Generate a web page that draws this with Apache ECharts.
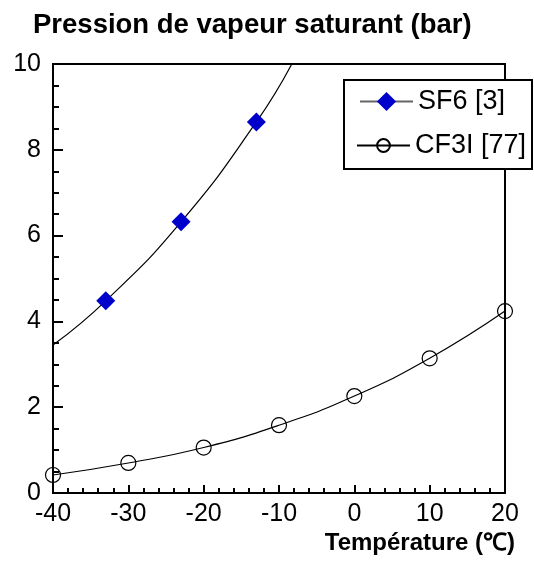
<!DOCTYPE html>
<html>
<head>
<meta charset="utf-8">
<script src="https://cdn.jsdelivr.net/npm/echarts@6/dist/echarts.min.js"></script>
<style>
html,body{margin:0;padding:0;background:#fff;}
#c{width:534px;height:561px;}
</style>
</head>
<body>
<div id="c"></div>
<script>
// ---- data ----
const xTicks = [-40, -30, -20, -10, 0, 10, 20];
const yTicks = [0, 2, 4, 6, 8, 10];

const sf6Name = 'SF6 [3]';
const sf6Temp = [-33, -23, -13];
const sf6Pressure = [4.48, 6.32, 8.65];
// fitted curve end points
const sf6CurveStart = [-40, 3.45];
const sf6CurveEnd = [-8.3, 10];

const cf3iName = 'CF3I [77]';
const cf3iTemp = [-40, -30, -20, -10, 0, 10, 20];
const cf3iPressure = [0.42, 0.70, 1.06, 1.58, 2.26, 3.14, 4.24];

const titleText = 'Pression de vapeur saturant (bar)';
const xNameText = 'Température (℃)';

// ---- build chart ----
const FONT = '"Liberation Sans", Arial, sans-serif';

const sf6Data = [{value: sf6CurveStart, symbol: 'none'}]
  .concat(sf6Temp.map((t, i) => [t, sf6Pressure[i]]))
  .concat([{value: sf6CurveEnd, symbol: 'none'}]);
const cf3iData = cf3iTemp.map((t, i) => [t, cf3iPressure[i]]);

const chart = echarts.init(document.getElementById('c'), null, {renderer: 'canvas'});
chart.setOption({
  animation: false,
  backgroundColor: '#fff',
  textStyle: {fontFamily: FONT},
  title: [
    {text: titleText, left: 33, top: 11, padding: 0,
     textStyle: {fontFamily: FONT, fontSize: 27.5, fontWeight: 'bold', color: '#000'}},
    {text: xNameText, right: 19, top: 531, padding: 0,
     textStyle: {fontFamily: FONT, fontSize: 24, fontWeight: 'bold', color: '#000'}}
  ],
  grid: {left: 53, right: 29, top: 64, bottom: 68, show: true,
         borderColor: '#000', borderWidth: 2, backgroundColor: 'transparent'},
  xAxis: {
    type: 'value', min: xTicks[0], max: xTicks[xTicks.length - 1], interval: 10,
    axisLine: {show: true, onZero: false, lineStyle: {color: '#000', width: 2}},
    axisTick: {show: true, inside: true, length: 8, lineStyle: {color: '#000', width: 2}},
    minorTick: {show: true, splitNumber: 5, length: 5, lineStyle: {color: '#000', width: 2}},
    splitLine: {show: false},
    axisLabel: {fontFamily: FONT, fontSize: 25, color: '#000', margin: 9}
  },
  yAxis: {
    type: 'value', min: yTicks[0], max: yTicks[yTicks.length - 1], interval: 2,
    axisLine: {show: true, onZero: false, lineStyle: {color: '#000', width: 2}},
    axisTick: {show: true, inside: true, length: 10, lineStyle: {color: '#000', width: 2}},
    minorTick: {show: true, splitNumber: 4, length: 6, lineStyle: {color: '#000', width: 2}},
    splitLine: {show: false},
    axisLabel: {fontFamily: FONT, fontSize: 25, color: '#000', margin: 12}
  },
  legend: [
    {data: [sf6Name], orient: 'vertical', left: 359, top: 88, padding: 0,
     itemWidth: 53, itemHeight: 24,
     lineStyle: {color: '#666', width: 2},
     textStyle: {fontFamily: FONT, fontSize: 27, color: '#000'}},
    {data: [cf3iName], orient: 'vertical', left: 356, top: 132, padding: 0,
     itemWidth: 53, itemHeight: 16,
     textStyle: {fontFamily: FONT, fontSize: 27, color: '#000'}}
  ],
  graphic: [{
    type: 'rect', z: 3, silent: true,
    shape: {x: 344, y: 80, width: 188, height: 89},
    style: {fill: '#fff', stroke: '#000', lineWidth: 2}
  }],
  series: [
    {
      name: sf6Name, type: 'line', data: sf6Data, smooth: true,
      symbol: 'diamond', symbolSize: 19,
      lineStyle: {color: '#000', width: 1.2},
      itemStyle: {color: '#0000cc', borderWidth: 0},
      clip: true, z: 2
    },
    {
      name: cf3iName, type: 'line', data: cf3iData, smooth: true,
      symbol: 'circle', symbolSize: 15,
      lineStyle: {color: '#000', width: 1.2},
      itemStyle: {color: 'transparent', borderColor: '#000', borderWidth: 1.2},
      clip: false, z: 2
    }
  ]
});
</script>
</body>
</html>
